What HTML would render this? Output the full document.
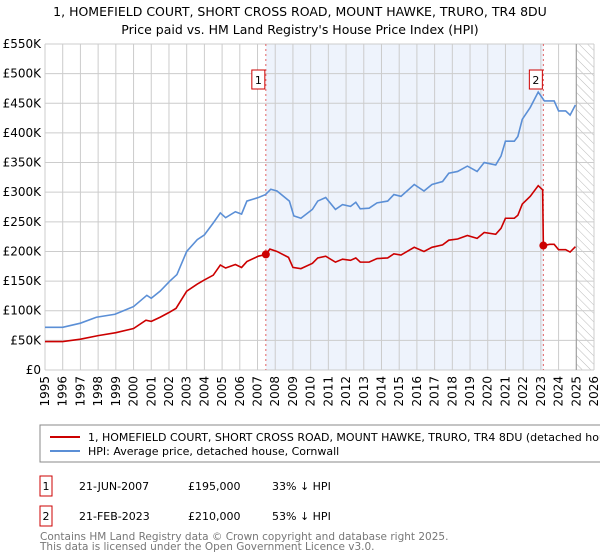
<!DOCTYPE html>
<html><head><meta charset="utf-8"><style>
body{margin:0;background:#fff;font-family:"Liberation Sans","DejaVu Sans",sans-serif;}
svg{display:block}
</style></head><body>
<svg id="chart" width="600" height="560" xmlns="http://www.w3.org/2000/svg" font-family="DejaVu Sans, Liberation Sans, sans-serif">
<text x="300" y="16" text-anchor="middle" font-size="12.5" fill="#000">1, HOMEFIELD COURT, SHORT CROSS ROAD, MOUNT HAWKE, TRURO, TR4 8DU</text>
<text x="300" y="34" text-anchor="middle" font-size="12.5" fill="#000">Price paid vs. HM Land Registry's House Price Index (HPI)</text>
<defs><pattern id="hatch" width="6" height="6" patternUnits="userSpaceOnUse" patternTransform="rotate(-45)"><line x1="0" y1="0" x2="0" y2="6" stroke="#bbb" stroke-width="1"/></pattern></defs>
<g id="plot"></g>
<rect x="40" y="425" width="570" height="37" fill="#fff" stroke="#888"/>
<line x1="50" y1="437" x2="80" y2="437" stroke="#cc0000" stroke-width="2"/>
<text x="88" y="441" font-size="11">1, HOMEFIELD COURT, SHORT CROSS ROAD, MOUNT HAWKE, TRURO, TR4 8DU (detached house)</text>
<line x1="50" y1="451" x2="80" y2="451" stroke="#5b8fd6" stroke-width="2"/>
<text x="88" y="455" font-size="11">HPI: Average price, detached house, Cornwall</text>
<g font-size="11">
<rect x="40" y="476" width="12" height="20" fill="#fff" stroke="#cc0000"/>
<text x="46" y="490" text-anchor="middle">1</text>
<text x="79" y="490">21-JUN-2007</text>
<text x="188" y="490">£195,000</text>
<text x="272" y="490">33% ↓ HPI</text>
<rect x="40" y="506" width="12" height="20" fill="#fff" stroke="#cc0000"/>
<text x="46" y="520" text-anchor="middle">2</text>
<text x="79" y="520">21-FEB-2023</text>
<text x="188" y="520">£210,000</text>
<text x="272" y="520">53% ↓ HPI</text>
</g>
<text x="40" y="540" font-size="10.5" fill="#777">Contains HM Land Registry data © Crown copyright and database right 2025.</text>
<text x="40" y="550" font-size="10.5" fill="#777">This data is licensed under the Open Government Licence v3.0.</text>
</svg>
<script>
const hpiYears=[1995,1996,1997,1997.9,1998.95,2000,2000.75,2001,2001.5,2002.05,2002.45,2003,2003.6,2004,2004.5,2004.9,2005.2,2005.75,2006.1,2006.4,2007.05,2007.45,2007.75,2008.1,2008.8,2009.05,2009.45,2010.1,2010.4,2010.85,2011.4,2011.8,2012.25,2012.55,2012.8,2013.3,2013.75,2014.35,2014.7,2015.1,2015.85,2016.4,2016.85,2017.45,2017.8,2018.3,2018.85,2019.4,2019.8,2020.45,2020.75,2021.0,2021.5,2021.7,2021.95,2022.4,2022.85,2023.2,2023.75,2024.0,2024.4,2024.65,2024.95];
const hpiValues=[72,72,79,89,94,107,126,121,133,150,161,200,220,228,248,265,257,267,263,285,291,296,305,302,285,260,256,271,285,291,271,279,276,283,272,273,282,285,296,293,313,302,313,318,332,335,344,335,350,346,361,386,386,394,423,443,469,454,454,437,437,430,447];
const priceYears=[1995,1996,1997,1998,1999,2000,2000.7,2001,2001.5,2002,2002.4,2003,2003.6,2004,2004.5,2004.9,2005.2,2005.75,2006.1,2006.4,2007.05,2007.47,2007.7,2008.1,2008.75,2009.0,2009.45,2010.1,2010.4,2010.85,2011.4,2011.8,2012.25,2012.55,2012.8,2013.3,2013.75,2014.35,2014.7,2015.1,2015.85,2016.4,2016.85,2017.45,2017.8,2018.3,2018.85,2019.4,2019.8,2020.45,2020.75,2021.0,2021.5,2021.7,2021.95,2022.4,2022.85,2023.1,2023.14,2023.5,2023.75,2024.0,2024.4,2024.65,2024.95];
const priceValues=[48,48,52,58,63,70,84,82,89,97,104,133,145,152,160,177,172,178,173,183,192,195,204,200,190,173,171,180,189,192,182,187,185,189,182,182,188,189,196,194,207,200,207,211,219,221,227,222,232,229,239,256,256,261,280,293,311,304,210,212,212,203,203,199,208];
const saleYears=[2007.47,2023.14];
const saleValues=[195,210];
const saleLabels=["1","2"];
const yTicks=[0,50,100,150,200,250,300,350,400,450,500,550];
const yTickLabels=["£0","£50K","£100K","£150K","£200K","£250K","£300K","£350K","£400K","£450K","£500K","£550K"];
const xTicks=[1995,1996,1997,1998,1999,2000,2001,2002,2003,2004,2005,2006,2007,2008,2009,2010,2011,2012,2013,2014,2015,2016,2017,2018,2019,2020,2021,2022,2023,2024,2025,2026];

const X0=45,X1=594,Y0=370,Y1=44;
const x=y=>X0+(y-1995)/(2026-1995)*(X1-X0);
const yv=v=>Y0-v/550*(Y0-Y1);
const NS="http://www.w3.org/2000/svg";
const g=document.getElementById('plot');
function mk(t,a){const e=document.createElementNS(NS,t);for(const k in a)e.setAttribute(k,a[k]);g.appendChild(e);return e;}
const shade=mk('rect',{x:x(saleYears[0]),y:Y1,width:x(saleYears[1])-x(saleYears[0]),height:Y0-Y1,fill:'#eef3fc'});


const hat=mk('rect',{x:x(2025),y:Y1,width:X1-x(2025),height:Y0-Y1,fill:'url(#hatch)'});


xTicks.forEach(t=>{
  const l=mk('line',{x1:x(t),x2:x(t),y1:Y1,y2:Y0,stroke:'#ccc','stroke-width':1});
  
  
  const tx=mk('text',{x:0,y:0,'font-size':12,'text-anchor':'end',transform:`translate(${x(t)+4},${Y0+6}) rotate(-90)`});
  tx.textContent=t;
  
  
});
yTicks.forEach((t,i)=>{
  const l=mk('line',{x1:X0,x2:X1,y1:yv(t),y2:yv(t),stroke:'#ccc','stroke-width':1});
  
  
  const tx=mk('text',{x:X0-4,y:yv(t)+4,'font-size':12,'text-anchor':'end'});
  tx.textContent=yTickLabels[i];
  
  
});
const vl=mk('line',{x1:x(2025),x2:x(2025),y1:Y1,y2:Y0,stroke:'#999','stroke-width':1});


saleYears.forEach((s,i)=>{
  const l=mk('line',{x1:x(s),x2:x(s),y1:Y1,y2:Y0,stroke:'#e06060','stroke-width':1,'stroke-dasharray':'2,3'});
  
  
  const r=mk('rect',{x:x(s)-14,y:70,width:13,height:19,fill:'#fff',stroke:'#cc0000'});
  
  
  const t=mk('text',{x:x(s)-7.5,y:84,'font-size':11,'text-anchor':'middle'});
  t.textContent=saleLabels[i];
  
  
});
const hp=mk('polyline',{points:hpiYears.map((t,i)=>x(t)+','+yv(hpiValues[i])).join(' '),fill:'none',stroke:'#5b8fd6','stroke-width':1.6});


const pp=mk('polyline',{points:priceYears.map((t,i)=>x(t)+','+yv(priceValues[i])).join(' '),fill:'none',stroke:'#cc0000','stroke-width':1.6});


saleYears.forEach((s,i)=>{
  const c=mk('circle',{cx:x(s),cy:yv(saleValues[i]),r:4,fill:'#cc0000'});
  
  
});
</script>
</body></html>
